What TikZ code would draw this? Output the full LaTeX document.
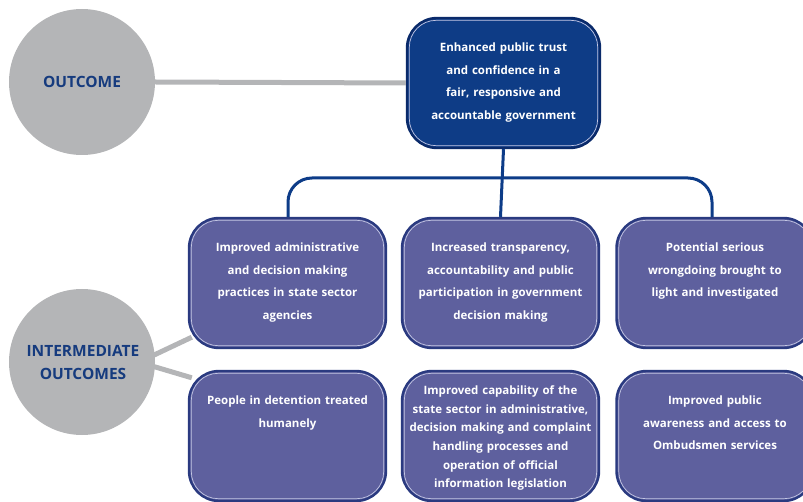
\documentclass[tikz,border=0pt]{standalone}
\usepackage{fontspec}
\setmainfont{Open Sans}
\begin{document}
\definecolor{navy}{HTML}{0E3C86}
\definecolor{navyedge}{HTML}{0A2A6A}
\definecolor{slate}{HTML}{5E609E}
\definecolor{slateedge}{HTML}{2A3A80}
\definecolor{innerline}{HTML}{C4C7E4}
\definecolor{disc}{HTML}{B4B5B7}
\definecolor{disctext}{HTML}{163B7E}
\definecolor{link}{HTML}{0D3C88}
\begin{tikzpicture}[x=1pt,y=-1pt,
  topbox/.style={draw=navyedge, line width=2.4pt, fill=navy, rounded corners=30pt,
    minimum width=193pt, minimum height=130pt, inner sep=0pt},
  subbox/.style={draw=slateedge, line width=2.4pt, fill=slate, rounded corners=30pt,
    minimum width=197pt, minimum height=130pt, inner sep=0pt},
  boxtext/.style={anchor=north, text=white, font=\bfseries\fontsize{11.5}{22.5}\selectfont,
    align=center, text width=196pt, inner sep=0pt},
  disclabel/.style={text=disctext, font=\bfseries\fontsize{15.5}{23}\selectfont, align=center},
  greyline/.style={draw=disc, line width=5pt},
  treeline/.style={draw=link, line width=3pt, rounded corners=24pt}]
\useasboundingbox (0,0) rectangle (803,502);

% outcome level
\node[circle, fill=disc, minimum size=146pt, inner sep=0pt] (outc) at (82,82) {};
\node[topbox] (top) at (503.5,83) {};
\draw[greyline] (outc.east) -- (top.west);
\node[disclabel] (outcl) at (outc.center) {OUTCOME};

% intermediate outcome boxes
\node[subbox] (b1) at (287.5,283) {};
\node[subbox] (b2) at (500.5,283) {};
\node[subbox] (b3) at (715,283) {};
\node[subbox] (b4) at (287.5,436) {};
\node[subbox] (b5) at (500.5,436) {};
\node[subbox] (b6) at (715,436) {};

% intermediate disc and its links
\coordinate (m1) at (152,356);
\coordinate (m2) at (152,366);
\draw[greyline] (m1) -- ([xshift=4pt,yshift=12pt]b1.south west);
\draw[greyline] (m2) -- ([xshift=4pt,yshift=-8pt]b4.north west);
\node[circle, fill=disc, minimum size=146pt, inner sep=0pt] (midc) at (82,362) {};
\node[disclabel] (midl) at (83,363) {INTERMEDIATE\\OUTCOMES};

% inner highlight lines of the boxes
\foreach \b in {top,b1,b2,b3,b4,b5,b6}{
  \draw[innerline, line width=0.7pt, rounded corners=27pt]
    ([xshift=3.5pt,yshift=-3.5pt]\b.north west) rectangle ([xshift=-3.5pt,yshift=3.5pt]\b.south east);
}

% tree connector
\coordinate (hl) at (288,178);
\coordinate (hr) at (712,178);
\draw[treeline] (top.south) -- (b2.north);
\draw[treeline] (b1.north -| hl) -- (hl) -- (hr) -- (b3.north -| hr);

% texts
\node[boxtext] (t0) at ([yshift=-26pt]top.north) {Enhanced public trust\\and confidence in a\\fair, responsive and\\accountable government};
\node[boxtext] (t1) at ([yshift=-26pt]b1.north) {Improved administrative\\and decision making\\practices in state sector\\agencies};
\node[boxtext] (t2) at ([yshift=-26pt]b2.north) {Increased transparency,\\accountability and public\\participation in government\\decision making};
\node[boxtext] (t3) at ([yshift=-26pt]b3.north) {Potential serious\\wrongdoing brought to\\light and investigated};
\node[boxtext] (t4) at ([yshift=-26pt]b4.north) {People in detention treated\\humanely};
\node[boxtext, font=\bfseries\fontsize{11.5}{18.6}\selectfont] (t5) at ([yshift=-16pt]b5.north) {Improved capability of the\\state sector in administrative,\\decision making and complaint\\handling processes and\\operation of official\\information legislation};
\node[boxtext] (t6) at ([yshift=-26pt]b6.north) {Improved public\\awareness and access to\\Ombudsmen services};
\end{tikzpicture}
\end{document}
